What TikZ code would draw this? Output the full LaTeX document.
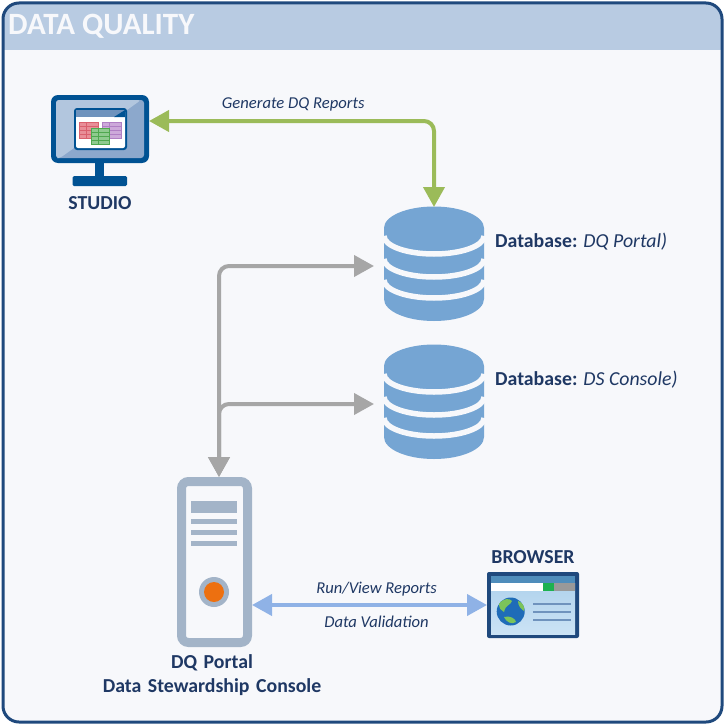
\documentclass[tikz,border=0pt]{standalone}
\usepackage{fontspec}
\setmainfont{Carlito}
\usetikzlibrary{positioning,arrows.meta}
\definecolor{frameblue}{HTML}{1F497D}
\definecolor{headblue}{HTML}{B8CBE2}
\definecolor{panelgray}{HTML}{F7F8FB}
\definecolor{inkblue}{HTML}{1F3864}
\definecolor{dbblue}{HTML}{75A5D3}
\definecolor{monblue}{HTML}{005293}
\definecolor{screenlight}{HTML}{B2C6DE}
\definecolor{screendark}{HTML}{8CA8CC}
\definecolor{barblue}{HTML}{6F93BD}
\definecolor{servergray}{HTML}{A3B4C8}
\definecolor{linegreen}{HTML}{9BBB59}
\definecolor{linegray}{HTML}{A6A6A6}
\definecolor{lineblue}{HTML}{8FB2E6}
\definecolor{dotorange}{HTML}{ED7010}
\definecolor{sheetred}{HTML}{E88E98}
\definecolor{gridred}{HTML}{D9606E}
\definecolor{sheetviolet}{HTML}{CDA9DA}
\definecolor{gridviolet}{HTML}{B07FC4}
\definecolor{sheetgreen}{HTML}{8FCB8F}
\definecolor{gridgreen}{HTML}{4FA84F}
\definecolor{webtop}{HTML}{B0D2EC}
\definecolor{webbottom}{HTML}{CBE3F5}
\definecolor{webbar}{HTML}{4F8DBB}
\definecolor{webgreen}{HTML}{1DB150}
\definecolor{globeblue}{HTML}{1F6CB8}
\definecolor{landgreen}{HTML}{7CC45A}
\tikzset{
	iconbox/.style={rectangle, inner sep=0pt, outer sep=0pt},
	iconlabel/.style={inner sep=0pt, font=\bfseries\fontsize{19.8}{22}\selectfont, text=inkblue, align=center},
	dblabel/.style={inner sep=0pt, anchor=west, font=\fontsize{19.8}{22}\selectfont, text=inkblue},
	linelabel/.style={inner sep=0pt, font=\itshape\fontsize{16.6}{18}\selectfont, text=inkblue},
	flow/.style={line width=4pt, rounded corners=10pt, arrows={Triangle[length=20pt,width=21pt]-Triangle[length=20pt,width=21pt]}},
}
\newcommand{\dbicon}[1]{
	\begin{scope}[shift={(#1)}]
		\fill[dbblue] (-50,-38) -- (-50,33) arc[start angle=180, end angle=0, x radius=50, y radius=22]
			-- (50,-38) arc[start angle=0, end angle=-180, x radius=50, y radius=21.5] -- cycle;
		\foreach \ypos in {-30,-7,14}
			\draw[panelgray, line width=5.5pt] (-50,\ypos) arc[start angle=180, end angle=0, x radius=50, y radius=18];
	\end{scope}
}
\newcommand{\sheeticon}[5]{
	\fill[#4, draw=#5, line width=.8pt] (#1,#2) rectangle +(#3,16);
	\draw[#5, line width=.8pt] (#1,#2+4) -- +(#3,0) (#1,#2+8) -- +(#3,0) (#1,#2+12) -- +(#3,0) (#1+7,#2) -- +(0,16);
}

\begin{document}
\begin{tikzpicture}[x=1pt, y=-1pt]
	\useasboundingbox (0,0) rectangle (725,725);
	\fill[white] (0,0) rectangle (725,725);

	\fill[panelgray, rounded corners=16pt] (3,3) rectangle (722,722);
	\begin{scope}
		\clip[rounded corners=16pt] (3,3) rectangle (722,722);
		\fill[headblue, rounded corners=5pt] (0,-10) rectangle (725,50);
	\end{scope}
	\draw[frameblue, line width=3pt, rounded corners=16pt] (3,3) rectangle (722,722);
	\node[inner sep=0pt, anchor=west, font=\bfseries\fontsize{31}{34}\selectfont, text=panelgray] (title) at (8,26) {DATA QUALITY};

	\node[iconbox, minimum width=98pt, minimum height=91pt] (studio) at (100,140.5) {};
	\node[iconbox, minimum width=100pt, minimum height=118pt] (dbportal) at (434,266) {};
	\node[iconbox, minimum width=100pt, minimum height=118pt] (dbconsole) at (434,404) {};
	\node[iconbox, minimum width=75pt, minimum height=170pt] (server) at (214.5,562) {};
	\node[iconbox, minimum width=92pt, minimum height=66pt] (browser) at (533,605) {};

	% studio
	\fill[monblue] (95,160) rectangle (104,178);
	\fill[monblue, rounded corners=1.5pt] (72.5,176) rectangle (127,186);
	\fill[monblue, rounded corners=7pt] (51,95) rectangle (149,163);
	\fill[screendark, rounded corners=3pt] (56,100) rectangle (144,158);
	\fill[screenlight, rounded corners=3pt] (56,158) -- (56,100) -- (141,100) -- (60,158) -- cycle;
	\fill[monblue, rounded corners=3pt] (74,108) rectangle (127,150);
	\fill[white, rounded corners=2pt] (76,110) rectangle (125,148);
	\fill[barblue] (76,110) rectangle (125,117);
	\fill[monblue] (125,110) -- (125,117) -- (114,117) -- cycle;
	\sheeticon{79.5}{122}{19}{sheetred}{gridred}
	\sheeticon{102.5}{122}{19}{sheetviolet}{gridviolet}
	\sheeticon{91}{128}{18}{sheetgreen}{gridgreen}

	% databases
	\dbicon{434,266}
	\dbicon{434,404}

	% server
	\draw[servergray, line width=9pt, rounded corners=7pt] (181.5,481.5) rectangle (247.5,642.5);
	\fill[servergray] (191,501) rectangle (237,513);
	\foreach \ypos in {519,530,541}
		\fill[servergray] (191,\ypos) rectangle (237,\ypos+5);
	\fill[servergray] (214,592) circle[radius=15];
	\fill[dotorange] (214,592) circle[radius=10];

	% browser
	\fill[frameblue, rounded corners=2pt] (487,572) rectangle (579,638);
	\shade[top color=webtop, bottom color=webbottom] (491,583) rectangle (575,634);
	\fill[webbar] (491,576) rectangle (575,583);
	\fill[white] (491,583) rectangle (543,590.5);
	\fill[webgreen] (543,583) rectangle (553.7,590.5);
	\fill[gray!80] (553.7,583) rectangle (575,590.5);
	\foreach \ypos in {604,612,620}
		\draw[barblue, line width=1.5pt] (533,\ypos) -- (571,\ypos);
	\fill[globeblue] (510.7,611.5) circle[radius=14];
	\fill[landgreen] (499,604) .. controls (503,598) and (510,598) .. (512,601) .. controls (510,606) and (506,604) .. (504,612) .. controls (501,611) and (499,608) .. (499,604);
	\fill[landgreen] (504,617) .. controls (510,615) and (516,619) .. (516,622) .. controls (512,625) and (506,622) .. (504,617);
	\fill[landgreen] (518,601) .. controls (522,602) and (525,606) .. (524,611) .. controls (521,609) and (518,606) .. (518,601);

	% labels
	\node[iconlabel, below=10pt of studio] (studiolabel) {STUDIO};
	\node[iconlabel, above=8pt of browser] (browserlabel) {BROWSER};
	\node[iconlabel, below=7pt of server, xshift=-2.5pt, text width=240pt, font=\bfseries\fontsize{19.8}{24}\selectfont] (serverlabel) {DQ Portal\\Data Stewardship Console};
	\node[dblabel] (dbportallabel) at (495,242) {\textbf{Database:} \textit{DQ Portal)}};
	\node[dblabel] (dbconsolelabel) at (495,380) {\textbf{Database:} \textit{DS Console)}};

	% connectors
	\draw[flow, linegreen] ([yshift=19.5pt]studio.east) -| (dbportal.north)
		node[linelabel, pos=0.253, above=7.5pt] (reportslabel) {Generate DQ Reports};
	\draw[flow, linegray, shorten >=10pt] ([xshift=4.5pt]server.north) |- (dbportal.west);
	\draw[flow, linegray, shorten >=10pt] ([xshift=4.5pt]server.north) |- (dbconsole.west);
	\draw[flow, lineblue] ([yshift=-43pt]server.east) -- (browser.west)
		node[linelabel, pos=0.53, above=7pt] (runlabel) {Run/View Reports}
		node[linelabel, pos=0.53, below=9pt] (validationlabel) {Data Validation};
\end{tikzpicture}
\end{document}
